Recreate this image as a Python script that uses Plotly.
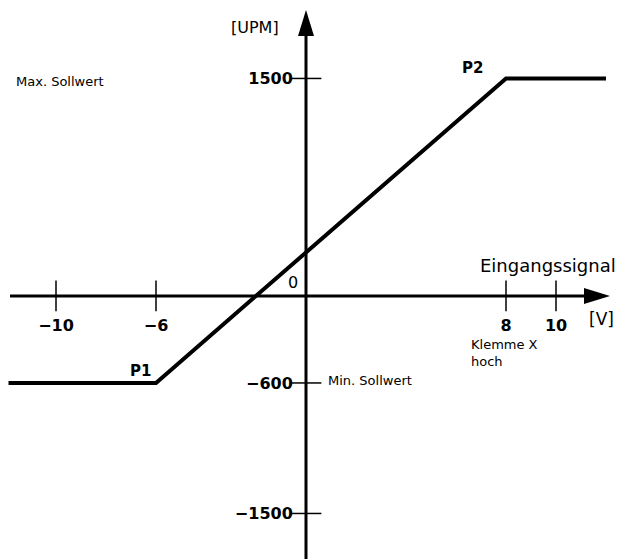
import plotly.graph_objects as go

# ---- data ----
curve_x = [-11.9, -6, 8, 12.0]        # Eingangssignal [V]
curve_y = [-600, -600, 1500, 1500]    # [UPM]
point_labels = ["P1", "P2"]
point_x = [-6, 8]
point_y = [-600, 1500]
x_ticks = [-10, -6, 8, 10]
x_tick_text = ["−10", "−6", "8", "10"]
y_ticks = [1500, -600, -1500]
y_tick_text = ["1500", "−600", "−1500"]

W, H = 619, 559
X_RANGE = [-12.24, 12.52]
Y_RANGE = [-1814, 2041]
FONT = "DejaVu Sans"

x_axis_pos = (0 - Y_RANGE[0]) / (Y_RANGE[1] - Y_RANGE[0])
y_axis_pos = (0 - X_RANGE[0]) / (X_RANGE[1] - X_RANGE[0])

fig = go.Figure()

# characteristic curve
fig.add_trace(go.Scatter(x=curve_x, y=curve_y, mode="lines",
                         line=dict(color="black", width=4), hoverinfo="skip"))

# crossing tick marks
fig.add_trace(go.Scatter(x=x_ticks, y=[0] * len(x_ticks), mode="markers",
                         marker=dict(symbol="line-ns-open", size=22, color="black",
                                     line=dict(color="black", width=1.5)),
                         hoverinfo="skip"))
fig.add_trace(go.Scatter(x=[0] * len(y_ticks), y=y_ticks, mode="markers",
                         marker=dict(symbol="line-ew-open", size=22, color="black",
                                     line=dict(color="black", width=1.5)),
                         hoverinfo="skip"))

# axis lines with arrow heads
x_tip, y_tip = 12.16, 1972
fig.add_shape(type="line", xref="x", yref="y", x0=-11.84, x1=x_tip - 1.0, y0=0, y1=0,
              line=dict(color="black", width=3))
fig.add_shape(type="line", xref="x", yref="y", x0=0, x1=0, y0=-1814, y1=y_tip - 160,
              line=dict(color="black", width=3))
fig.add_shape(type="path", xref="x", yref="y", xsizemode="pixel", ysizemode="pixel",
              xanchor=x_tip, yanchor=0, path="M0,0 L-26,8 L-26,-8 Z",
              fillcolor="black", line=dict(width=0))
fig.add_shape(type="path", xref="x", yref="y", xsizemode="pixel", ysizemode="pixel",
              xanchor=0, yanchor=y_tip, path="M0,0 L-8,-26 L8,-26 Z",
              fillcolor="black", line=dict(width=0))

ann = []
def A(text, **kw):
    d = dict(text=text, showarrow=False, font=dict(family=FONT, size=14, color="black"))
    fnt = kw.pop("font", None)
    if fnt:
        d["font"].update(fnt)
    d.update(kw)
    ann.append(d)

A("[UPM]", xref="paper", yref="paper", x=255 / W, y=1 - 28 / H, xanchor="center",
  yanchor="middle", font=dict(size=16))
A("Max. Sollwert", xref="paper", yref="y", x=14 / W, y=y_ticks[0], xanchor="left",
  yanchor="middle", yshift=-3, font=dict(size=13))
A("Min. Sollwert", xref="x", yref="y", x=0, y=y_ticks[1], xanchor="left",
  xshift=20, yshift=2, font=dict(size=13))
A("Eingangssignal", xref="paper", yref="y", x=618 / W, y=0, xanchor="right",
  yshift=30, font=dict(size=18))
A("[V]", xref="paper", yref="y", x=601 / W, y=0, xanchor="center", yshift=-23,
  font=dict(size=17))
A("Klemme X<br>hoch", xref="x", yref="y", x=point_x[1], y=0, xanchor="left",
  yanchor="top", xshift=-37, yshift=-39, align="left", font=dict(size=13))
A("0", xref="x", yref="y", x=0, y=0, xshift=-13, yshift=13, font=dict(size=16))
A(point_labels[0], xref="x", yref="y", x=point_x[0], y=point_y[0], xshift=-16, yshift=12,
  font=dict(size=15, weight="bold"))
A(point_labels[1], xref="x", yref="y", x=point_x[1], y=point_y[1], xshift=-34, yshift=10,
  font=dict(size=15, weight="bold"))

fig.update_layout(
    width=W, height=H, margin=dict(l=0, r=0, t=0, b=0),
    paper_bgcolor="white", plot_bgcolor="white", showlegend=False,
    annotations=ann,
    xaxis=dict(range=X_RANGE, anchor="free", position=x_axis_pos,
               tickvals=x_ticks, ticktext=x_tick_text, ticks="outside", ticklen=10,
               tickcolor="rgba(0,0,0,0)", ticklabelstandoff=5,
               showgrid=False, zeroline=False, showline=False, automargin=False,
               tickfont=dict(family=FONT, size=16, color="black", weight="bold"),
               fixedrange=True),
    yaxis=dict(range=Y_RANGE, anchor="free", position=y_axis_pos,
               tickvals=y_ticks, ticktext=y_tick_text, ticks="outside", ticklen=10,
               tickcolor="rgba(0,0,0,0)",
               showgrid=False, zeroline=False, showline=False, automargin=False,
               tickfont=dict(family=FONT, size=16, color="black", weight="bold"),
               fixedrange=True),
)

fig.write_html("out.html", config={"displayModeBar": False},
               post_script="document.body.style.margin='0';document.body.style.overflow='hidden';")
